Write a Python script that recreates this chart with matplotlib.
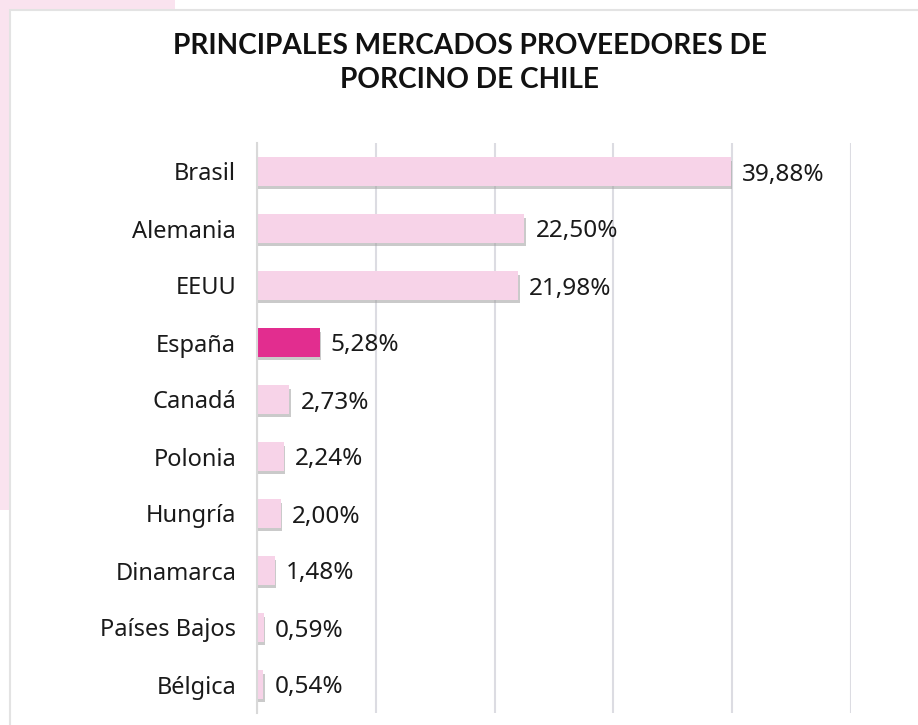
import matplotlib.pyplot as plt
import matplotlib.patheffects as pe
from matplotlib.patches import Rectangle

# Data
paises = ["Brasil", "Alemania", "EEUU", "España", "Canadá", "Polonia",
          "Hungría", "Dinamarca", "Países Bajos", "Bélgica"]
porcentajes = [39.88, 22.50, 21.98, 5.28, 2.73, 2.24, 2.00, 1.48, 0.59, 0.54]
etiquetas = ["39,88%", "22,50%", "21,98%", "5,28%", "2,73%", "2,24%",
             "2,00%", "1,48%", "0,59%", "0,54%"]
destacado = "España"

plt.rcParams['font.family'] = ['Noto Sans', 'DejaVu Sans']

W, H = 918, 725
fig = plt.figure(figsize=(W / 100, H / 100), dpi=100)

# pink decoration behind the card
fig.patches.append(Rectangle((0, 1 - 510 / H), 10 / W, 510 / H, transform=fig.transFigure,
                             facecolor="#fae3ef", edgecolor="none", zorder=0))
fig.patches.append(Rectangle((0, 1 - 10 / H), 175 / W, 10 / H, transform=fig.transFigure,
                             facecolor="#fae3ef", edgecolor="none", zorder=0))
# white card with grey border
fig.patches.append(Rectangle((10 / W, -0.1), 1.2, 1 - 10 / H + 0.1, transform=fig.transFigure,
                             facecolor="white", edgecolor="#e3e3e3", linewidth=1.5, zorder=1))

ax = fig.add_axes([257 / W, 1 - 713 / H, (851 - 257) / W, (713 - 143) / H])
ax.set_zorder(2)
ax.patch.set_alpha(0)

y = list(range(len(paises)))
colores = ["#e22d8f" if p == destacado else "#f7d3e8" for p in paises]
bars = ax.barh(y, porcentajes, height=0.5, color=colores, zorder=3)
for b in bars:
    b.set_path_effects([pe.SimplePatchShadow(offset=(1, -2.5), shadow_rgbFace="#a0a0a0", alpha=0.55),
                        pe.Normal()])

for yi, v, t in zip(y, porcentajes, etiquetas):
    ax.annotate(t, (v, yi), xytext=(8, 0), textcoords="offset points",
                va="center_baseline", ha="left", fontsize=17.5, color="#1a1a1a")

ax.set_xlim(0, 50)
ax.set_ylim(len(paises) - 0.5, -0.5)
ax.set_xticks(range(0, 51, 10))
ax.set_xticklabels([])
ax.set_yticks(y)
ax.set_yticklabels(paises, fontsize=17, color="#1a1a1a", va="center_baseline")
ax.tick_params(axis="both", length=0)
ax.tick_params(axis="y", pad=15)
ax.grid(axis="x", color="#dcdce2", linewidth=1.5, zorder=0)
for s in ["top", "right", "bottom"]:
    ax.spines[s].set_visible(False)
ax.spines["left"].set_color("#d9d9d9")
ax.spines["left"].set_linewidth(1.5)
ax.spines["left"].set_zorder(4)

fig.text(470 / W, 1 - 63 / H, "PRINCIPALES MERCADOS PROVEEDORES DE\nPORCINO DE CHILE",
         ha="center", va="center", fontsize=20.2, fontweight="bold", linespacing=1.4,
         color="#111111", family=["Lato", "DejaVu Sans"])

fig.savefig("out.png", dpi=100)
